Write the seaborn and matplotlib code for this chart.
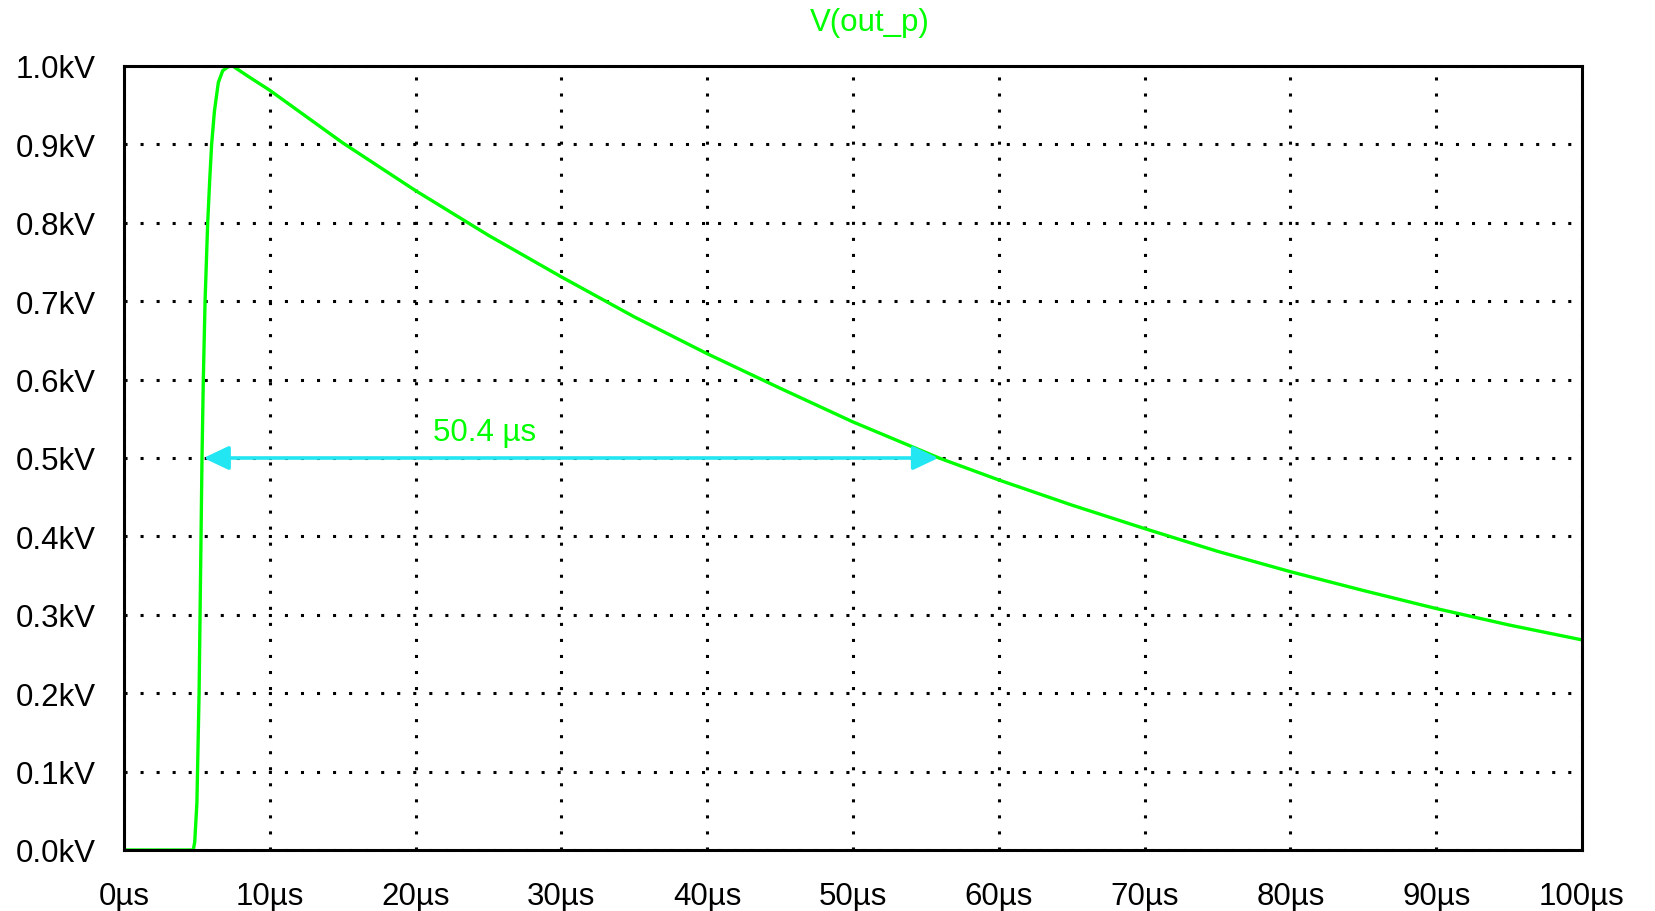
import numpy as np
import pandas as pd
import matplotlib.pyplot as plt
import seaborn as sns

# tiempo en us y tension en kV
tiempo_us = [0, 4.75, 4.85, 5.0, 5.15, 5.25, 5.35, 5.44, 5.56, 5.74, 5.88, 6.01, 6.2, 6.47, 6.77,
             7.13, 7.45, 8.5, 10, 15, 20, 25, 30, 35, 40, 45, 50, 55.9,
             60, 65, 70, 75, 80, 85, 90, 95, 100]
tension_kv = [0, 0, 0.01, 0.06, 0.2, 0.35, 0.5, 0.6, 0.7, 0.8, 0.855, 0.9, 0.942, 0.979, 0.994,
              0.999, 1.0, 0.987, 0.969, 0.902, 0.841, 0.784, 0.731, 0.68, 0.633, 0.589, 0.546, 0.5,
              0.472, 0.44, 0.41, 0.381, 0.355, 0.331, 0.308, 0.287, 0.268]

x_ticks = [0, 10, 20, 30, 40, 50, 60, 70, 80, 90, 100]
x_labels = [f"{t}µs" for t in x_ticks]
y_ticks = [0.0, 0.1, 0.2, 0.3, 0.4, 0.5, 0.6, 0.7, 0.8, 0.9, 1.0]
y_labels = [f"{v:.1f}kV" for v in y_ticks]

# medida del ancho a media altura
medida_inicio = 5.45
medida_ancho = 50.4
medida_nivel = 0.5
medida_texto = "50.4 µs"

verde = "#00ff00"
cian = "#22e6f2"

sns.set_style("white")
plt.rcParams["font.family"] = ["Liberation Sans", "DejaVu Sans"]

df = pd.DataFrame({"t": tiempo_us, "v": tension_kv})

fig = plt.figure(figsize=(16.56, 9.12), dpi=100)
ax = fig.add_axes([124 / 1656, 61 / 912, 1458 / 1656, 784 / 912])

ax.grid(True, color="black", linestyle=(0, (1, 4.25)), linewidth=2.2)
ax.set_axisbelow(True)

sns.lineplot(data=df, x="t", y="v", ax=ax, color=verde, linewidth=2.4, sort=False)

ax.annotate("", xy=(medida_inicio, medida_nivel),
            xytext=(medida_inicio + medida_ancho, medida_nivel),
            arrowprops=dict(arrowstyle="<|-|>,head_length=0.55,head_width=0.26",
                            color=cian, lw=2.6, mutation_scale=28,
                            shrinkA=0, shrinkB=0))
ax.text(24.7, 0.533, medida_texto, color=verde, fontsize=22.5,
        ha="center", va="center")

ax.set_xlim(0, 100)
ax.set_ylim(0, 1.0)
ax.set_xticks(x_ticks)
ax.set_xticklabels(x_labels)
ax.set_yticks(y_ticks)
ax.set_yticklabels(y_labels)
ax.set_xlabel("")
ax.set_ylabel("")
ax.tick_params(axis="both", direction="inout", length=7, width=2,
               labelsize=22.5, colors="black")
ax.tick_params(axis="x", pad=19)
ax.tick_params(axis="y", pad=17)

for s in ax.spines.values():
    s.set_visible(True)
    s.set_color("black")
    s.set_linewidth(2.2)

fig.text(0.525, 0.975, "V(out_p)", color=verde, fontsize=22.5,
         ha="center", va="center")

fig.savefig("out.png", dpi=100, facecolor="white")
